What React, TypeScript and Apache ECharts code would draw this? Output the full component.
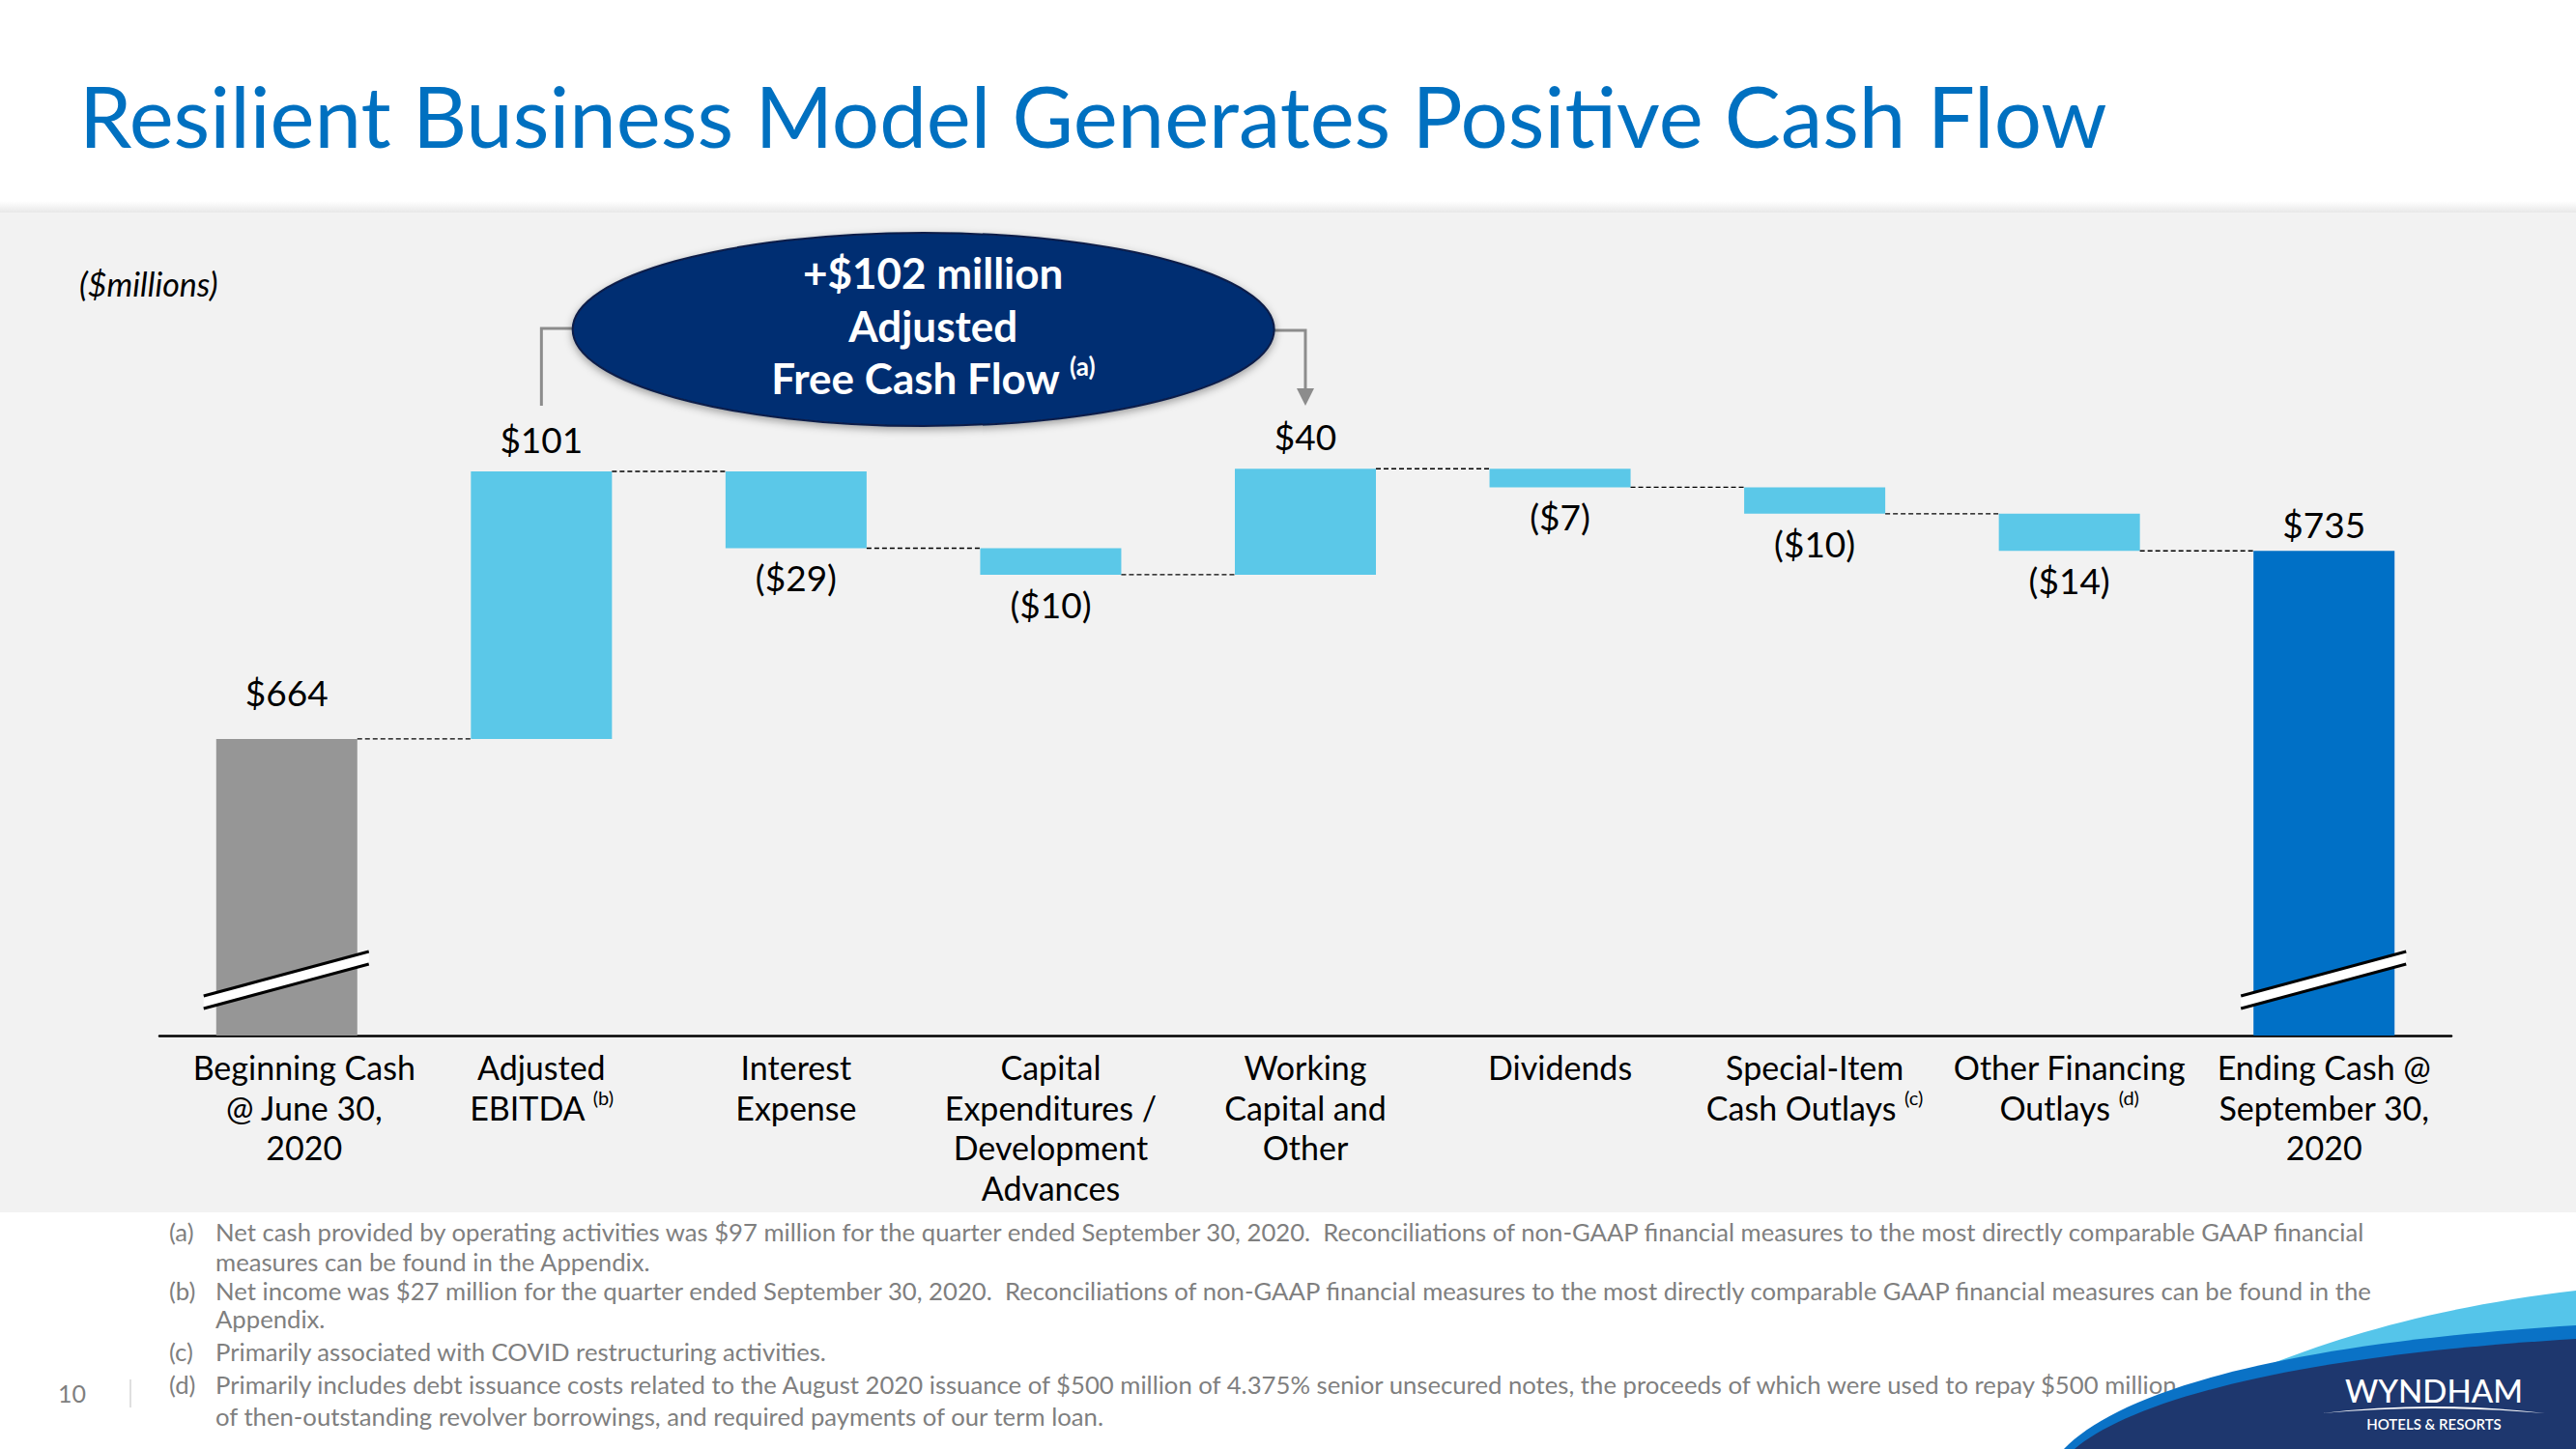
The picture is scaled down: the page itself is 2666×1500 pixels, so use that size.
import React, { useEffect, useRef } from "react";
import * as echarts from "echarts";

const FONT = "Lato, 'Open Sans', 'Noto Sans', sans-serif";

// ---------------- data ----------------
const categories = [
  "Beginning Cash\n@ June 30,\n2020",
  "Adjusted\nEBITDA",
  "Interest\nExpense",
  "Capital\nExpenditures /\nDevelopment\nAdvances",
  "Working\nCapital and\nOther",
  "Dividends",
  "Special-Item\nCash Outlays",
  "Other Financing\nOutlays",
  "Ending Cash @\nSeptember 30,\n2020",
];
const categoryNotes = ["", "(b)", "", "", "", "", "(c)", "(d)", ""];
const beginningCash = 664;
const changes = [101, -29, -10, 40, -7, -10, -14];
const endingCash = 735;
const yMin = 552;
const yMax = 800;

const titleText = "Resilient Business Model Generates Positive Cash Flow";
const unitText = "($millions)";
const calloutLines = ["+$102 million", "Adjusted", "Free Cash Flow"];
const calloutNote = "(a)";

const footnoteMarks = ["(a)", "", "(b)", "", "(c)", "(d)", ""];
const footnoteLines = [
  "Net cash provided by operating activities was $97 million for the quarter ended September 30, 2020.  Reconciliations of non-GAAP financial measures to the most directly comparable GAAP financial",
  "measures can be found in the Appendix.",
  "Net income was $27 million for the quarter ended September 30, 2020.  Reconciliations of non-GAAP financial measures to the most directly comparable GAAP financial measures can be found in the",
  "Appendix.",
  "Primarily associated with COVID restructuring activities.",
  "Primarily includes debt issuance costs related to the August 2020 issuance of $500 million of 4.375% senior unsecured notes, the proceeds of which were used to repay $500 million",
  "of then-outstanding revolver borrowings, and required payments of our term loan.",
];
const pageNumber = "10";

// ---------------- styles ----------------
const GRAY = "#969696";
const LIGHT = "#5BC8E8";
const BLUE = "#0070C6";
const TITLE_BLUE = "#0070C0";
const NAVY = "#002D72";
const BAR_RATIO = 0.554;

const NAVY_PATH = "M2147 1500 C2200 1455 2350 1405 2666 1386 L2666 1500 Z";
const MID_PATH = "M2136 1500 C2190 1444 2345 1392 2666 1372 L2666 1500 Z";
const LIGHT_PATH =
  "M2340 1416 C2430 1380 2530 1352 2666 1336 L2666 1380 C2510 1386 2420 1398 2340 1416 Z";
const ARC_PATH = "M2403 1463 Q2518 1449 2634 1463 Q2518 1453 2403 1463 Z";

let shapesRegistered = false;
function registerShapes() {
  if (shapesRegistered) return;
  shapesRegistered = true;
  const g: any = (echarts as any).graphic;
  g.registerShape("swooshNavy", g.extendPath(NAVY_PATH, {}));
  g.registerShape("swooshMid", g.extendPath(MID_PATH, {}));
  g.registerShape("swooshLight", g.extendPath(LIGHT_PATH, {}));
  g.registerShape("logoArc", g.extendPath(ARC_PATH, {}));
}

function fmtValue(v: number) {
  return v < 0 ? `($${-v})` : `$${v}`;
}

function buildOption() {
  const base: number[] = [0];
  const vis: any[] = [
    {
      value: beginningCash,
      itemStyle: { color: GRAY },
      label: { position: "top", distance: 30, formatter: fmtValue(beginningCash) },
    },
  ];
  const levels: number[] = [beginningCash];
  let run = beginningCash;
  for (const c of changes) {
    const end = run + c;
    base.push(Math.min(run, end));
    vis.push({
      value: Math.abs(c),
      itemStyle: { color: LIGHT },
      label: { position: c >= 0 ? "top" : "bottom", distance: c >= 0 ? 15 : 12, formatter: fmtValue(c) },
    });
    run = end;
    levels.push(run);
  }
  base.push(0);
  vis.push({
    value: endingCash,
    itemStyle: { color: BLUE },
    label: { position: "top", distance: 9, formatter: fmtValue(endingCash) },
  });

  const labelFormatter = (value: string, index: number) => {
    const lines = value.split("\n");
    const st = index === 0 ? "f" : "n";
    return lines
      .map((l, k) => {
        const note = k === lines.length - 1 && categoryNotes[index] ? categoryNotes[index] : "";
        return note ? `{${st}|${l} }{s|${note}}` : `{${st}|${l}}`;
      })
      .join("\n");
  };

  return {
    animation: false,
    backgroundColor: "#FFFFFF",
    grid: { left: 165, right: 129, top: 392, bottom: 428 },
    xAxis: {
      type: "category",
      data: categories,
      axisLine: { show: true, lineStyle: { color: "#000", width: 2.5 } },
      axisTick: { show: false },
      axisLabel: {
        interval: 0,
        margin: 12,
        formatter: labelFormatter,
        rich: {
          n: { fontFamily: FONT, fontSize: 34, lineHeight: 41.5, color: "#000" },
          f: {
            fontFamily: FONT,
            fontSize: 34,
            lineHeight: 41.5,
            color: "#000",
            padding: [0, 0, 0, 36],
          },
          s: { fontFamily: FONT, fontSize: 20, lineHeight: 24, color: "#000", verticalAlign: "top" },
        },
      },
    },
    yAxis: {
      type: "value",
      min: yMin,
      max: yMax,
      show: false,
      splitLine: { show: false },
    },
    series: [
      {
        type: "bar",
        stack: "wf",
        barWidth: BAR_RATIO * 100 + "%",
        data: base,
        itemStyle: { color: "rgba(0,0,0,0)" },
        silent: true,
        clip: true,
        z: 2,
      },
      {
        type: "bar",
        stack: "wf",
        barWidth: BAR_RATIO * 100 + "%",
        data: vis,
        silent: true,
        clip: true,
        z: 2,
        label: { show: true, fontFamily: FONT, fontSize: 37, color: "#000" },
      },
      {
        type: "custom",
        silent: true,
        z: 3,
        data: levels.map((v, i) => [i, v]),
        renderItem: (_p: any, api: any) => {
          const i = api.value(0);
          const v = api.value(1);
          const pt = api.coord([i, v]);
          const band = api.size([1, 0])[0];
          const bw = band * BAR_RATIO;
          return {
            type: "line",
            shape: { x1: pt[0] + bw / 2, y1: pt[1], x2: pt[0] + band - bw / 2, y2: pt[1] },
            style: { stroke: "#000", lineWidth: 1.4, lineDash: [5, 3] },
          };
        },
      },
      {
        type: "custom",
        silent: true,
        z: 6,
        data: [0, categories.length - 1].map((i) => [i, yMin]),
        renderItem: (_p: any, api: any) => {
          const pt = api.coord([api.value(0), api.value(1)]);
          const cx = pt[0];
          const y = pt[1];
          const a = [cx - 86, y - 41];
          const b = [cx + 85, y - 87];
          const c = [cx + 85, y - 74];
          const d = [cx - 86, y - 28];
          return {
            type: "group",
            children: [
              { type: "polygon", shape: { points: [a, b, c, d] }, style: { fill: "#FFFFFF" } },
              {
                type: "line",
                shape: { x1: a[0], y1: a[1], x2: b[0], y2: b[1] },
                style: { stroke: "#000", lineWidth: 3 },
              },
              {
                type: "line",
                shape: { x1: d[0], y1: d[1], x2: c[0], y2: c[1] },
                style: { stroke: "#000", lineWidth: 3 },
              },
            ],
          };
        },
      },
    ],
  };
}

function buildGraphic(chart: any) {
  const xE = chart.convertToPixel({ gridIndex: 0 }, [1, yMin])[0];
  const xW = chart.convertToPixel({ gridIndex: 0 }, [4, yMin])[0];
  const cx = (xE + xW) / 2;
  const cy = 341;
  const rx = 363;
  const ry = 100;
  const lineGray = "#8C8C8C";
  const els: any[] = [];

  // panel
  els.push({
    type: "rect",
    z: -10,
    shape: { x: 0, y: 208, width: 2666, height: 14 },
    style: {
      fill: new (echarts as any).graphic.LinearGradient(0, 0, 0, 1, [
        { offset: 0, color: "rgba(230,230,230,0)" },
        { offset: 1, color: "#E4E4E4" },
      ]),
    },
  });
  els.push({
    type: "rect",
    z: -10,
    shape: { x: 0, y: 220, width: 2666, height: 1035 },
    style: { fill: "#F2F2F2" },
  });

  // title
  els.push({
    type: "text",
    z: 10,
    style: {
      text: titleText,
      x: 82,
      y: 119,
      fontFamily: FONT,
      fontSize: 87,
      fill: TITLE_BLUE,
      align: "left",
      verticalAlign: "middle",
    },
  });
  els.push({
    type: "text",
    z: 10,
    style: {
      text: unitText,
      x: 82,
      y: 293,
      fontFamily: FONT,
      fontSize: 34,
      fontStyle: "italic",
      fill: "#000",
      align: "left",
      verticalAlign: "middle",
    },
  });

  // brackets
  els.push({
    type: "polyline",
    z: 20,
    shape: { points: [[cx - rx + 20, 340], [xE, 340], [xE, 420]] },
    style: { stroke: lineGray, lineWidth: 3, fill: null },
  });
  els.push({
    type: "polyline",
    z: 20,
    shape: { points: [[cx + rx - 20, 342], [xW, 342], [xW, 404]] },
    style: { stroke: lineGray, lineWidth: 3, fill: null },
  });
  els.push({
    type: "polygon",
    z: 20,
    shape: { points: [[xW - 9, 402], [xW + 9, 402], [xW, 420]] },
    style: { fill: lineGray },
  });

  // ellipse callout
  els.push({
    type: "ellipse",
    z: 30,
    shape: { cx, cy, rx, ry },
    style: {
      fill: NAVY,
      stroke: "#0B1F48",
      lineWidth: 2,
      shadowBlur: 8,
      shadowColor: "rgba(0,0,0,0.35)",
      shadowOffsetY: 3,
    },
  });
  const lineYs = [282, 337, 391];
  calloutLines.forEach((t, i) => {
    const isLast = i === calloutLines.length - 1;
    els.push({
      type: "text",
      z: 31,
      style: {
        text: isLast ? `{b|${t} }{s|${calloutNote}}` : t,
        x: cx + 10,
        y: lineYs[i],
        fontFamily: FONT,
        fontSize: 44,
        fontWeight: "bold",
        fill: "#FFFFFF",
        align: "center",
        verticalAlign: "middle",
        rich: isLast
          ? {
              b: { fontFamily: FONT, fontSize: 44, fontWeight: "bold", fill: "#FFFFFF", lineHeight: 50 },
              s: {
                fontFamily: FONT,
                fontSize: 26,
                fontWeight: "bold",
                fill: "#FFFFFF",
                lineHeight: 30,
                verticalAlign: "top",
              },
            }
          : undefined,
      },
    });
  });

  // footnotes
  const rowYs = [1275, 1306, 1336, 1365, 1399, 1433, 1466];
  footnoteLines.forEach((t, i) => {
    if (footnoteMarks[i]) {
      els.push({
        type: "text",
        z: 10,
        style: {
          text: footnoteMarks[i],
          x: 175,
          y: rowYs[i],
          fontFamily: FONT,
          fontSize: 25.7,
          fill: "#7F7F7F",
          align: "left",
          verticalAlign: "middle",
        },
      });
    }
    els.push({
      type: "text",
      z: 10,
      style: {
        text: t,
        x: 223,
        y: rowYs[i],
        fontFamily: FONT,
        fontSize: 25.7,
        fill: "#7F7F7F",
        align: "left",
        verticalAlign: "middle",
      },
    });
  });

  // page number
  els.push({
    type: "text",
    z: 10,
    style: {
      text: pageNumber,
      x: 60,
      y: 1442,
      fontFamily: FONT,
      fontSize: 25,
      fill: "#7F7F7F",
      align: "left",
      verticalAlign: "middle",
    },
  });
  els.push({
    type: "line",
    z: 10,
    shape: { x1: 135, y1: 1428, x2: 135, y2: 1457 },
    style: { stroke: "#BFBFBF", lineWidth: 1 },
  });

  // logo swoosh
  els.push({ type: "swooshLight", z: 40, x: 0, y: 0, scaleX: 1, scaleY: 1, style: { fill: "#55C5EA" } });
  els.push({ type: "swooshMid", z: 41, x: 0, y: 0, scaleX: 1, scaleY: 1, style: { fill: "#0A72C6" } });
  els.push({ type: "swooshNavy", z: 42, x: 0, y: 0, scaleX: 1, scaleY: 1, style: { fill: "#1E376E" } });
  els.push({ type: "logoArc", z: 43, x: 0, y: 0, scaleX: 1, scaleY: 1, style: { fill: "#FFFFFF" } });
  els.push({
    type: "text",
    z: 43,
    style: {
      text: "WYNDHAM",
      x: 2519,
      y: 1439,
      fontFamily: FONT,
      fontSize: 33,
      fontWeight: 500,
      fill: "#FFFFFF",
      align: "center",
      verticalAlign: "middle",
    },
  });
  els.push({
    type: "text",
    z: 43,
    style: {
      text: "HOTELS & RESORTS",
      x: 2519,
      y: 1474,
      fontFamily: FONT,
      fontSize: 15,
      fontWeight: 600,
      fill: "#FFFFFF",
      align: "center",
      verticalAlign: "middle",
    },
  });

  return els;
}

export default function App() {
  const ref = useRef<HTMLDivElement | null>(null);
  useEffect(() => {
    document.body.style.margin = "0";
    document.body.style.overflow = "hidden";
    registerShapes();
    if (!ref.current) return;
    const chart = echarts.init(ref.current, undefined, { renderer: "svg" });
    chart.setOption(buildOption() as any);
    chart.setOption({ graphic: { elements: buildGraphic(chart) } } as any);
    return () => {
      chart.dispose();
    };
  }, []);
  return <div ref={ref} style={{ width: 2666, height: 1500 }} />;
}
